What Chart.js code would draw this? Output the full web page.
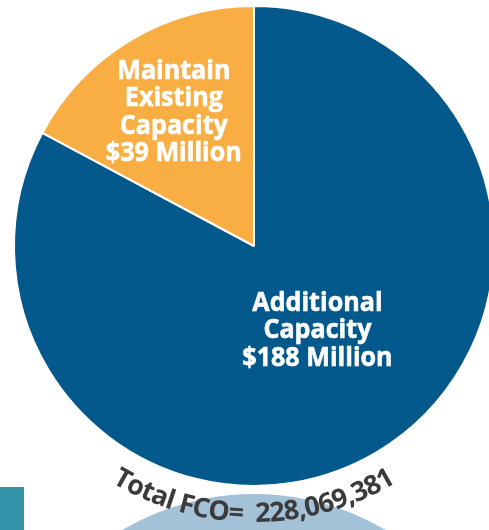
<!DOCTYPE html>
<html>
<head>
<meta charset="utf-8">
<script src="https://cdn.jsdelivr.net/npm/chart.js@4.4.1/dist/chart.umd.min.js"></script>
<style>
  html, body { margin:0; padding:0; background:#fff; overflow:hidden; }
  .wrap { position:relative; width:489px; height:530px; overflow:hidden; }
  .wrap canvas { position:absolute; left:0; top:0; }
  .tab { position:absolute; left:0; top:487px; width:24px; height:43px; background:#3394aa; }
</style>
</head>
<body>
<div class="wrap">
  <canvas id="fco" width="508" height="530"></canvas>
  <div class="tab"></div>
</div>
<script>
// FCO split, $ millions
const categories = ['Additional Capacity', 'Maintain Existing Capacity'];
const labelLines = [['Additional', 'Capacity'], ['Maintain', 'Existing', 'Capacity']];
const values     = [188, 39];
const colors     = ['#03588c', '#f9ae43'];
const totalFco   = 228069381;

// label placement per slice: fraction of radius, and a small turn off the mid angle (deg)
const labelRadius = [0.44, 0.65];
const labelTurn   = [-6, 0];

const LABEL_FONT = 'bold 27px "Open Sans", sans-serif';
const SQUEEZE = 0.93;   // narrow the wide Open Sans a little

const sliceLabels = {
  id: 'sliceLabels',
  beforeDatasetsDraw(chart) {
    // pale disc peeking up under the pie
    const arc = chart.getDatasetMeta(0).data[0];
    if (!arc) return;
    const ctx = chart.ctx;
    const r = arc.outerRadius;
    const r2 = r * 1.08;
    ctx.save();
    ctx.fillStyle = '#a4c2d7';
    ctx.beginPath();
    ctx.arc(arc.x, arc.y + r + 8 + r2, r2, 0, Math.PI * 2);
    ctx.fill();
    ctx.restore();
  },
  afterDatasetsDraw(chart) {
    const ctx = chart.ctx;
    const meta = chart.getDatasetMeta(0);
    ctx.save();
    ctx.font = LABEL_FONT;
    ctx.fillStyle = '#fff';
    ctx.strokeStyle = '#fff';
    ctx.lineWidth = 0.6;
    ctx.textAlign = 'center';
    ctx.textBaseline = 'middle';
    meta.data.forEach((a, i) => {
      const p = a.getProps(['x', 'y', 'startAngle', 'endAngle', 'outerRadius'], true);
      const mid = (p.startAngle + p.endAngle) / 2 + labelTurn[i] * Math.PI / 180;
      const cx = p.x + Math.cos(mid) * p.outerRadius * labelRadius[i];
      const cy = p.y + Math.sin(mid) * p.outerRadius * labelRadius[i];
      const lines = labelLines[i].concat(['$' + values[i] + ' Million']);
      const lh = 27.5;
      lines.forEach((t, k) => {
        ctx.save();
        ctx.translate(cx, cy + (k - (lines.length - 1) / 2) * lh);
        ctx.scale(SQUEEZE, 1);
        ctx.fillText(t, 0, 0);
        ctx.strokeText(t, 0, 0);
        ctx.restore();
      });
    });

    // total along the bottom rim
    const a0 = meta.data[0];
    const text = 'Total FCO=  ' + totalFco.toLocaleString('en-US');
    const R = a0.outerRadius + 36;
    const span = 62 * Math.PI / 180;
    ctx.font = 'bold 27px "Open Sans", sans-serif';
    ctx.fillStyle = '#3b3b3b';
    ctx.textBaseline = 'alphabetic';
    const widths = [...text].map(ch => ctx.measureText(ch).width);
    const total = widths.reduce((s, w) => s + w, 0);
    const gap = (span * R - total) / (widths.length - 1);
    let th = Math.PI / 2 + span / 2;
    [...text].forEach((ch, k) => {
      const c = th - (widths[k] / 2) / R;
      ctx.save();
      ctx.translate(a0.x + Math.cos(c) * R, a0.y + Math.sin(c) * R);
      ctx.rotate(c - Math.PI / 2);
      ctx.fillText(ch, 0, 0);
      ctx.restore();
      th -= (widths[k] + gap) / R;
    });
    ctx.restore();
  }
};

new Chart(document.getElementById('fco'), {
  type: 'pie',
  data: {
    labels: categories,
    datasets: [{ data: values, backgroundColor: colors, borderColor: '#fff', borderWidth: 2 }]
  },
  options: {
    responsive: false,
    animation: false,
    events: [],
    layout: { padding: { left: 13, top: 5, right: 13, bottom: 43 } },
    plugins: { legend: { display: false }, tooltip: { enabled: false } }
  },
  plugins: [sliceLabels]
});
</script>
</body>
</html>
